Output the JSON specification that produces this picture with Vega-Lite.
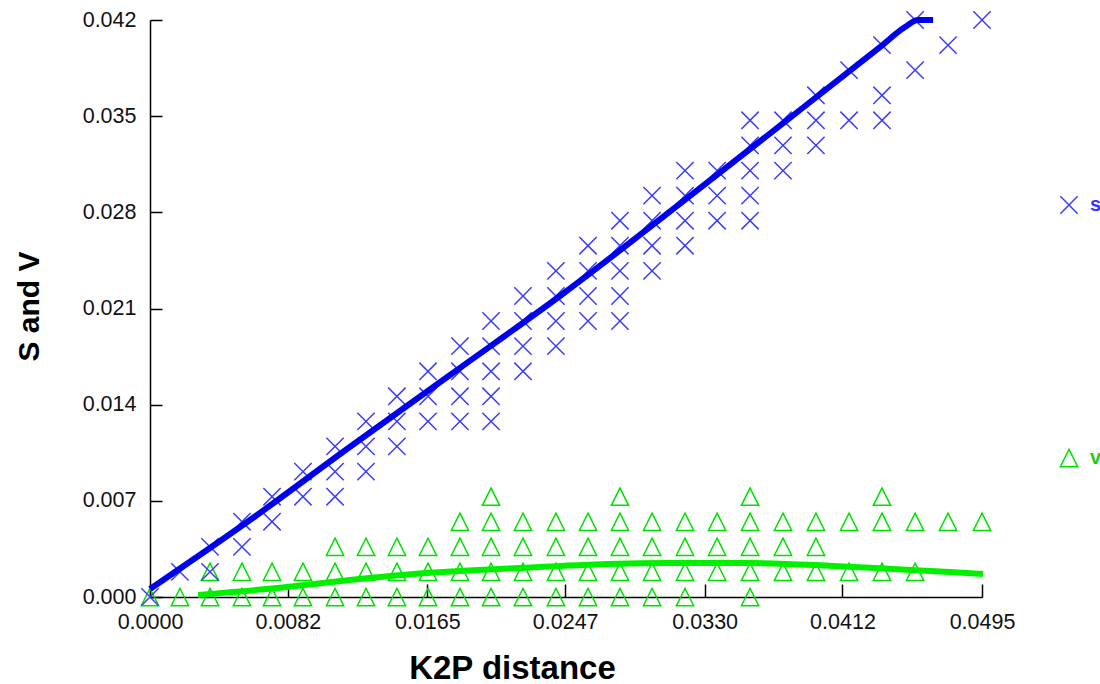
{
  "$schema": "https://vega.github.io/schema/vega-lite/v6.json",
  "width": 832,
  "height": 577,
  "autosize": {"type": "none"},
  "padding": {"left": 150, "top": 20, "right": 118, "bottom": 87},
  "background": "white",
  "config": {"view": {"stroke": null}, "font": "Liberation Sans"},
  "datasets": {
    "pts": [
      {"d":0,"s":0,"v":0},
      {"d":0.00178,"s":0.00183,"v":0},
      {"d":0.00357,"s":0.00183,"v":0.00183},
      {"d":0.00357,"s":0.00365,"v":0},
      {"d":0.00547,"s":0.00365,"v":0.00183},
      {"d":0.00547,"s":0.00548,"v":0},
      {"d":0.00726,"s":0.00548,"v":0.00183},
      {"d":0.00726,"s":0.0073,"v":0},
      {"d":0.0091,"s":0.0073,"v":0.00183},
      {"d":0.01101,"s":0.0073,"v":0.00365},
      {"d":0.0091,"s":0.00913,"v":0},
      {"d":0.01101,"s":0.00913,"v":0.00183},
      {"d":0.01285,"s":0.00913,"v":0.00365},
      {"d":0.01101,"s":0.01096,"v":0},
      {"d":0.01285,"s":0.01096,"v":0.00183},
      {"d":0.01469,"s":0.01096,"v":0.00365},
      {"d":0.01285,"s":0.01278,"v":0},
      {"d":0.01469,"s":0.01278,"v":0.00183},
      {"d":0.01654,"s":0.01278,"v":0.00365},
      {"d":0.01844,"s":0.01278,"v":0.00548},
      {"d":0.02029,"s":0.01278,"v":0.0073},
      {"d":0.01469,"s":0.01461,"v":0},
      {"d":0.01654,"s":0.01461,"v":0.00183},
      {"d":0.01844,"s":0.01461,"v":0.00365},
      {"d":0.02029,"s":0.01461,"v":0.00548},
      {"d":0.01654,"s":0.01643,"v":0},
      {"d":0.01844,"s":0.01643,"v":0.00183},
      {"d":0.02029,"s":0.01643,"v":0.00365},
      {"d":0.02219,"s":0.01643,"v":0.00548},
      {"d":0.01844,"s":0.01826,"v":0},
      {"d":0.02029,"s":0.01826,"v":0.00183},
      {"d":0.02219,"s":0.01826,"v":0.00365},
      {"d":0.02415,"s":0.01826,"v":0.00548},
      {"d":0.02029,"s":0.02009,"v":0},
      {"d":0.02219,"s":0.02009,"v":0.00183},
      {"d":0.02415,"s":0.02009,"v":0.00365},
      {"d":0.02606,"s":0.02009,"v":0.00548},
      {"d":0.02796,"s":0.02009,"v":0.0073},
      {"d":0.02219,"s":0.02191,"v":0},
      {"d":0.02415,"s":0.02191,"v":0.00183},
      {"d":0.02606,"s":0.02191,"v":0.00365},
      {"d":0.02796,"s":0.02191,"v":0.00548},
      {"d":0.02415,"s":0.02374,"v":0},
      {"d":0.02606,"s":0.02374,"v":0.00183},
      {"d":0.02796,"s":0.02374,"v":0.00365},
      {"d":0.02987,"s":0.02374,"v":0.00548},
      {"d":0.02606,"s":0.02557,"v":0},
      {"d":0.02796,"s":0.02557,"v":0.00183},
      {"d":0.02987,"s":0.02557,"v":0.00365},
      {"d":0.03183,"s":0.02557,"v":0.00548},
      {"d":0.02796,"s":0.02739,"v":0},
      {"d":0.02987,"s":0.02739,"v":0.00183},
      {"d":0.03183,"s":0.02739,"v":0.00365},
      {"d":0.03374,"s":0.02739,"v":0.00548},
      {"d":0.0357,"s":0.02739,"v":0.0073},
      {"d":0.02987,"s":0.02922,"v":0},
      {"d":0.03183,"s":0.02922,"v":0.00183},
      {"d":0.03374,"s":0.02922,"v":0.00365},
      {"d":0.0357,"s":0.02922,"v":0.00548},
      {"d":0.03183,"s":0.03104,"v":0},
      {"d":0.03374,"s":0.03104,"v":0.00183},
      {"d":0.0357,"s":0.03104,"v":0.00365},
      {"d":0.03766,"s":0.03104,"v":0.00548},
      {"d":0.0357,"s":0.03287,"v":0.00183},
      {"d":0.03766,"s":0.03287,"v":0.00365},
      {"d":0.03962,"s":0.03287,"v":0.00548},
      {"d":0.0357,"s":0.0347,"v":0},
      {"d":0.03766,"s":0.0347,"v":0.00183},
      {"d":0.03962,"s":0.0347,"v":0.00365},
      {"d":0.04159,"s":0.0347,"v":0.00548},
      {"d":0.04355,"s":0.0347,"v":0.0073},
      {"d":0.03962,"s":0.03652,"v":0.00183},
      {"d":0.04355,"s":0.03652,"v":0.00548},
      {"d":0.04159,"s":0.03835,"v":0.00183},
      {"d":0.04552,"s":0.03835,"v":0.00548},
      {"d":0.04355,"s":0.04017,"v":0.00183},
      {"d":0.04748,"s":0.04017,"v":0.00548},
      {"d":0.04552,"s":0.042,"v":0.00183},
      {"d":0.0495,"s":0.042,"v":0.00548}
    ],
    "sfit": [
      {"d":0,"s":0.00058},{"d":0.00595,"s":0.0056},{"d":0.01172,"s":0.01077},{"d":0.01785,"s":0.01616},
      {"d":0.02439,"s":0.02191},{"d":0.03213,"s":0.02919},{"d":0.03867,"s":0.03545},{"d":0.04343,"s":0.04003},
      {"d":0.04492,"s":0.04149},{"d":0.04569,"s":0.042},{"d":0.04659,"s":0.042}
    ],
    "vfit": [
      {"d":0.00286,"v":0.00015},{"d":0.00815,"v":0.00073},{"d":0.0119,"v":0.00124},{"d":0.01648,"v":0.00175},
      {"d":0.02201,"v":0.00211},{"d":0.02576,"v":0.00233},{"d":0.03076,"v":0.00247},{"d":0.0357,"v":0.00247},
      {"d":0.04063,"v":0.00226},{"d":0.0442,"v":0.00204},{"d":0.0476,"v":0.00182},{"d":0.04956,"v":0.00167}
    ]
  },
  "layer": [
    {
      "data": {"name": "pts"},
      "transform": [{"fold": ["v", "s"], "as": ["series", "val"]}],
      "mark": {"type": "point", "filled": false, "strokeWidth": 1.5, "size": 300, "opacity": 1},
      "encoding": {
        "x": {
          "field": "d", "type": "quantitative",
          "scale": {"domain": [0, 0.0495], "nice": false, "zero": false},
          "axis": {
            "values": [0, 0.0082, 0.0165, 0.0247, 0.033, 0.0412, 0.0495],
            "format": ".4f", "grid": false,
            "title": "K2P distance", "titleFontSize": 33, "titleFontWeight": "bold", "titleColor": "#000",
            "titleX": 362, "titleY": 81, "titleBaseline": "alphabetic", "titleAlign": "center",
            "tickSize": -13, "tickWidth": 1.5, "tickColor": "#000",
            "domainColor": "#000", "domainWidth": 1.5,
            "labelFontSize": 21.5, "labelColor": "#111", "labelPadding": 38, "labelBaseline": "middle",
            "labelFlush": false, "labelOverlap": false
          }
        },
        "y": {
          "field": "val", "type": "quantitative",
          "scale": {"domain": [0, 0.042], "nice": false, "zero": false},
          "axis": {
            "values": [0, 0.007, 0.014, 0.021, 0.028, 0.035, 0.042],
            "format": ".3f", "grid": false,
            "title": "S and V", "titleFontSize": 30, "titleFontWeight": "bold", "titleColor": "#000",
            "titleX": -112, "titleY": 286, "titleBaseline": "alphabetic", "titleAlign": "center", "titleAngle": 270,
            "tickSize": -12, "tickWidth": 1.5, "tickColor": "#000",
            "domainColor": "#000", "domainWidth": 1.5,
            "labelFontSize": 21.5, "labelColor": "#111", "labelPadding": 26,
            "labelFlush": false, "labelOverlap": false
          }
        },
        "shape": {
          "field": "series", "type": "nominal",
          "scale": {"domain": ["s", "v"], "range": ["M-1,-1L1,1M-1,1L1,-1", "M0,-1L1,1L-1,1Z"]},
          "legend": {
            "orient": "none", "legendX": 909, "legendY": 175, "title": null, "padding": 0,
            "symbolSize": 300, "symbolStrokeWidth": 1.5, "symbolFillColor": "transparent",
            "labelFontSize": 20, "labelFontWeight": "bold", "labelOffset": 11, "rowPadding": 229,
            "labelColor": {"expr": "datum.value === 's' ? '#3535ff' : '#20cc20'"}
          }
        },
        "color": {
          "field": "series", "type": "nominal",
          "scale": {"domain": ["s", "v"], "range": ["#3c3cff", "#00e000"]}
        }
      }
    },
    {
      "data": {"name": "vfit"},
      "mark": {"type": "line", "color": "#00f000", "strokeWidth": 6, "interpolate": "monotone"},
      "encoding": {
        "x": {"field": "d", "type": "quantitative"},
        "y": {"field": "v", "type": "quantitative"}
      }
    },
    {
      "data": {"name": "sfit"},
      "mark": {"type": "line", "color": "#0000f0", "strokeWidth": 6, "interpolate": "monotone"},
      "encoding": {
        "x": {"field": "d", "type": "quantitative"},
        "y": {"field": "s", "type": "quantitative"}
      }
    }
  ]
}
